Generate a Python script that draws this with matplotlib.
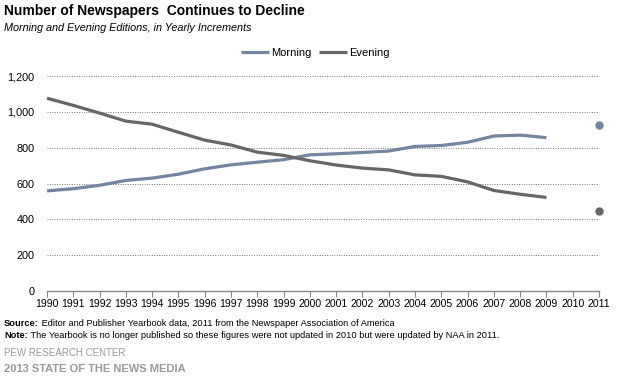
import matplotlib
matplotlib.use("Agg")
import matplotlib.pyplot as plt

plt.rcParams['font.family'] = ['Liberation Sans', 'DejaVu Sans']

years = list(range(1990, 2010))
morning = [559, 571, 590, 617, 630, 652, 682, 704, 719, 733,
           760, 766, 773, 781, 807, 812, 830, 865, 870, 856]
evening = [1076, 1036, 993, 948, 931, 886, 842, 815, 775, 757,
           727, 703, 686, 676, 648, 640, 609, 561, 540, 522]
year_2011 = 2011
morning_2011 = 924
evening_2011 = 445

tick_years = list(range(1990, 2012))
y_ticks = [0, 200, 400, 600, 800, 1000, 1200]

morning_color = "#73859f"
evening_color = "#666666"

fig = plt.figure(figsize=(6.36, 3.77), dpi=100)
W, H = 636, 377
ax = fig.add_axes([47 / W, 1 - 291 / H, (599 - 47) / W, (291 - 76) / H])

ax.plot(years, morning, color=morning_color, lw=2.3, solid_capstyle='butt', label="Morning")
ax.plot(years, evening, color=evening_color, lw=2.3, solid_capstyle='butt', label="Evening")
ax.plot([year_2011], [morning_2011], 'o', color=morning_color, ms=5)
ax.plot([year_2011], [evening_2011], 'o', color=evening_color, ms=5)

ax.set_xlim(1990, 2011)
ax.set_ylim(0, 1200)
ax.set_xticks(tick_years)
ax.set_xticklabels([str(y) for y in tick_years], fontsize=7.6)
ax.set_yticks(y_ticks)
ax.set_yticklabels(["{:,}".format(v) for v in y_ticks], fontsize=7.8)
ax.tick_params(axis='y', length=0, pad=9)
ax.tick_params(axis='x', length=4, width=0.8, color="#888888", pad=2, direction='out')

for v in y_ticks[1:]:
    ax.axhline(v, color="#777777", lw=0.7, ls=(0, (1, 1.5)), zorder=0)

for s in ['top', 'right', 'left']:
    ax.spines[s].set_visible(False)
ax.spines['bottom'].set_color("#888888")
ax.spines['bottom'].set_linewidth(1.0)
for line in ax.lines:
    line.set_clip_on(False)

ax.legend(loc='center left', bbox_to_anchor=(241 / W, 1 - 53 / H), bbox_transform=fig.transFigure,
          ncol=2, frameon=False, fontsize=8, handlelength=2.5, handletextpad=0.2,
          columnspacing=0.7, borderaxespad=0, borderpad=0)

fig.text(4 / W, 1 - 11 / H, "Number of Newspapers  Continues to Decline", fontsize=10,
         fontweight='bold', va='center', ha='left')
fig.text(4 / W, 1 - 28 / H, "Morning and Evening Editions, in Yearly Increments", fontsize=7.8,
         style='italic', va='center', ha='left')

# footer: bold label followed by normal text
renderer = fig.canvas.get_renderer()
footer = [("Source:", " Editor and Publisher Yearbook data, 2011 from the Newspaper Association of America", 323),
          ("Note:", " The Yearbook is no longer published so these figures were not updated in 2010 but were updated by NAA in 2011.", 336)]
for label, rest, ypix in footer:
    t = fig.text(4 / W, 1 - ypix / H, label, fontsize=6.7, fontweight='bold', va='center', ha='left')
    w = t.get_window_extent(renderer).width
    fig.text((4 + w) / W, 1 - ypix / H, rest, fontsize=6.7, va='center', ha='left')

fig.text(4 / W, 1 - 353 / H, "PEW RESEARCH CENTER", fontsize=7, color="#999999", va='center', ha='left')
fig.text(4 / W, 1 - 369 / H, "2013 STATE OF THE NEWS MEDIA", fontsize=8, color="#999999",
         fontweight='bold', va='center', ha='left')

fig.savefig("out.png", dpi=100)
